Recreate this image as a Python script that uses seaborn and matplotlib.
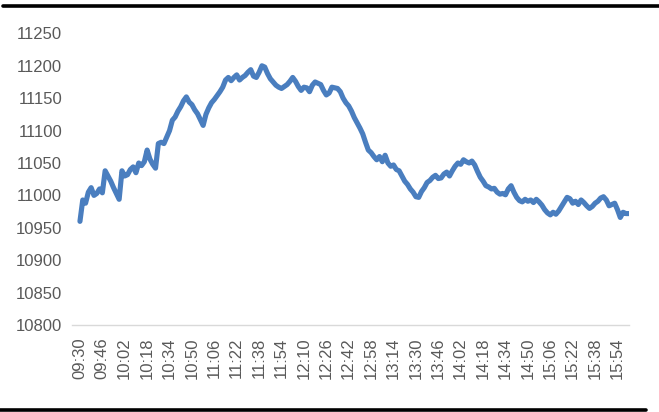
import matplotlib

matplotlib.use("Agg")
import matplotlib.pyplot as plt
import numpy as np
import pandas as pd
import seaborn as sns
from matplotlib.lines import Line2D

# index level, one reading every 2 minutes from 09:30 to 16:02
values = [
    10960, 10993, 10988, 11005, 11012, 11000, 11003, 11010, 11004, 11038,
    11030, 11022, 11012, 11003, 10994, 11038, 11030, 11032, 11040, 11044,
    11035, 11050, 11046, 11052, 11070, 11056, 11048, 11042, 11080, 11082,
    11080, 11090, 11100, 11116, 11121, 11130, 11137, 11146, 11152, 11144,
    11140, 11132, 11126, 11117, 11108, 11125, 11135, 11143, 11148, 11154,
    11160, 11167, 11178, 11182, 11177, 11182, 11186, 11178, 11182, 11185,
    11190, 11194, 11184, 11182, 11190, 11200, 11198, 11188, 11180, 11175,
    11170, 11167, 11165, 11168, 11171, 11176, 11182, 11176, 11168, 11162,
    11167, 11166, 11160, 11170, 11175, 11173, 11171, 11162, 11155, 11158,
    11167, 11166, 11165, 11160, 11150, 11143, 11138, 11130, 11120, 11112,
    11104, 11095, 11082, 11070, 11066, 11060, 11055, 11060, 11052, 11062,
    11050, 11045, 11047, 11040, 11038, 11030, 11022, 11017, 11010, 11005,
    10998, 10997, 11006, 11012, 11020, 11023, 11028, 11031, 11026, 11027,
    11033, 11036, 11030, 11038, 11045, 11050, 11048, 11055, 11052, 11050,
    11053, 11047, 11037, 11028, 11022, 11015, 11013, 11010, 11011, 11005,
    11002, 11003, 11001, 11010, 11015, 11005, 10997, 10992, 10990, 10994,
    10991, 10993, 10989, 10994, 10990, 10985, 10978, 10973, 10970, 10974,
    10971, 10976, 10983, 10990, 10997, 10995, 10988, 10991, 10986, 10993,
    10989, 10984, 10980, 10983, 10988, 10991, 10996, 10998, 10993, 10984,
    10986, 10988, 10978, 10966, 10974, 10972, 10972,
]

tick_labels = [
    "09:30", "09:46", "10:02", "10:18", "10:34", "10:50", "11:06", "11:22",
    "11:38", "11:54", "12:10", "12:26", "12:42", "12:58", "13:14", "13:30",
    "13:46", "14:02", "14:18", "14:34", "14:50", "15:06", "15:22", "15:38",
    "15:54",
]
y_ticks = [10800, 10850, 10900, 10950, 11000, 11050, 11100, 11150, 11200, 11250]

df = pd.DataFrame({"step": np.arange(len(values)), "level": values})

sns.set_style("white")
plt.rcParams["font.family"] = ["Liberation Sans", "DejaVu Sans"]

fig = plt.figure(figsize=(6.59, 4.12), dpi=100)
ax = fig.add_axes([0.109, 0.211, 0.845, 0.708])

sns.lineplot(data=df, x="step", y="level", ax=ax, color="#4a7ebf",
             linewidth=3.7, solid_joinstyle="round")

ax.set_xlim(-2.9, len(values) - 1)
ax.set_ylim(10800, 11250)
ax.set_xticks(np.arange(0, len(values), 8)[:len(tick_labels)])
ax.set_xticklabels(tick_labels, rotation=90)
ax.set_yticks(y_ticks)
ax.set_yticklabels([str(v) for v in y_ticks])
ax.tick_params(axis="both", length=0, labelsize=12, colors="#595959")
ax.tick_params(axis="x", pad=9)
ax.tick_params(axis="y", pad=7)
ax.set_xlabel("")
ax.set_ylabel("")

for side in ["top", "right", "left"]:
    ax.spines[side].set_visible(False)
ax.spines["bottom"].set_color("#d9d9d9")
ax.spines["bottom"].set_linewidth(1.0)

# black rules above and below the chart
fig.add_artist(Line2D([0.005, 1.0], [0.985, 0.985], color="black", linewidth=2.6,
                      transform=fig.transFigure))
fig.add_artist(Line2D([0.0, 0.98], [0.0045, 0.0045], color="black", linewidth=2.6,
                      transform=fig.transFigure))

fig.savefig("out.png", dpi=100)
plt.close(fig)
